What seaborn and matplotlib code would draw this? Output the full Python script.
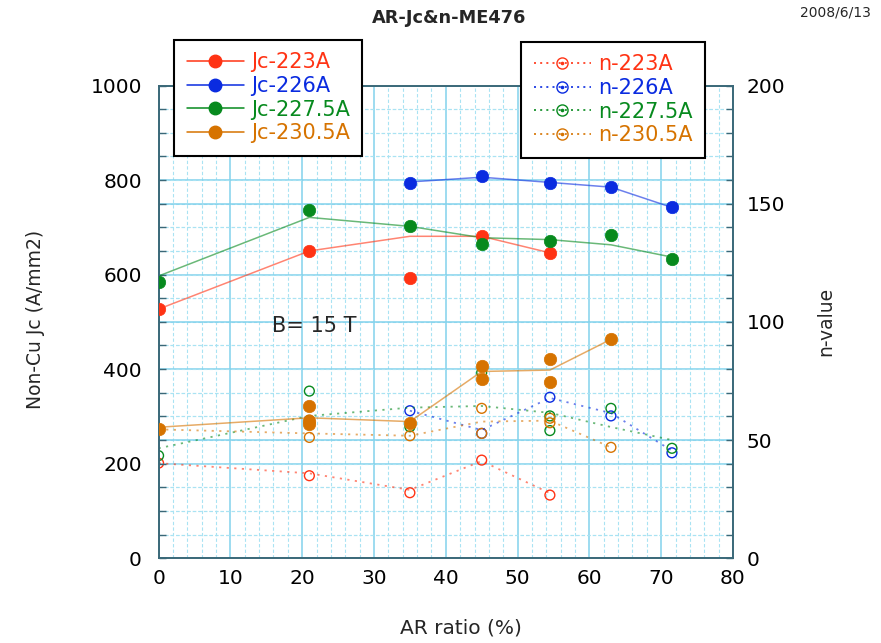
import matplotlib
matplotlib.use("Agg")
import matplotlib.pyplot as plt
from matplotlib.lines import Line2D
from matplotlib.legend_handler import HandlerTuple
from matplotlib.ticker import MultipleLocator
import seaborn as sns

# ---- data: AR ratio (%) vs non-Cu Jc (A/mm2) and n-value at B = 15 T ----
# Jc measurements
jc223_x = [0, 21, 35, 45, 54.5]
jc223_y = [527, 650, 593, 682, 646]
jc226_x = [35, 45, 54.5, 63, 71.5]
jc226_y = [793, 808, 794, 786, 742]
jc2275_x = [0, 21, 35, 45, 54.5, 63, 71.5]
jc2275_y = [584, 737, 703, 664, 672, 683, 634]
jc2305_x = [0, 21, 21, 21, 35, 45, 45, 54.5, 54.5, 63]
jc2305_y = [274, 322, 291, 283, 285, 407, 380, 421, 373, 463]

# smoothed Jc curves
jc223_fit_x = [0, 21, 35, 45, 54.5]
jc223_fit_y = [527, 650, 681, 681, 646]
jc226_fit_x = [35, 45, 54.5, 63, 71.5]
jc226_fit_y = [796, 806, 795, 785, 742]
jc2275_fit_x = [0, 21, 35, 45, 54.5, 63, 71.5]
jc2275_fit_y = [597, 721, 702, 678, 674, 663, 637]
jc2305_fit_x = [0, 21, 35, 45, 54.5, 63]
jc2305_fit_y = [277, 297, 289, 395, 398, 463]

# n-value measurements
n223_x = [0, 21, 35, 45, 54.5]
n223_y = [40.2, 34.9, 27.7, 41.5, 26.7]
n226_x = [35, 45, 54.5, 63, 71.5]
n226_y = [62.4, 52.8, 68.1, 60.2, 44.6]
n2275_x = [0, 21, 35, 45, 54.5, 54.5, 63, 71.5]
n2275_y = [43.4, 70.7, 55.6, 78.5, 60.2, 54.0, 63.4, 46.5]
n2305_x = [0, 21, 21, 35, 45, 45, 54.5, 54.5, 63]
n2305_y = [54.6, 58.5, 51.1, 51.8, 63.4, 52.8, 59.2, 57.3, 46.9]

# smoothed n-value curves
n223_fit_x = [0, 21, 35, 45, 54.5]
n223_fit_y = [40.2, 35.9, 28.9, 41.1, 27.5]
n226_fit_x = [35, 45, 54.5, 63, 71.5]
n226_fit_y = [62.4, 54.2, 67.8, 61.4, 45.5]
n2275_fit_x = [0, 21, 35, 45, 54.5, 63, 71.5]
n2275_fit_y = [46.5, 60.2, 63.7, 64.4, 61.5, 55.5, 50.0]
n2305_fit_x = [0, 21, 35, 45, 54.5, 63]
n2305_fit_y = [54.5, 52.8, 51.8, 57.8, 58.2, 46.9]

jc_labels = ["Jc-223A", "Jc-226A", "Jc-227.5A", "Jc-230.5A"]
n_labels = ["n-223A", "n-226A", "n-227.5A", "n-230.5A"]
x_ticks = [0, 10, 20, 30, 40, 50, 60, 70, 80]
jc_ticks = [0, 200, 400, 600, 800, 1000]
n_ticks = [0, 50, 100, 150, 200]

RED, BLUE, GREEN, ORANGE = "#FF3314", "#0A2BE0", "#078A1E", "#D67300"
colors = [RED, BLUE, GREEN, ORANGE]

sns.set_theme(style="white")
plt.rcParams["font.family"] = ["DejaVu Sans"]

fig = plt.figure(figsize=(8.81, 6.43), dpi=100)
pos = [0.18, 0.1319, 0.652, 0.7351]

# background axes carrying the x and left-y grid
axg = fig.add_axes(pos)
axg.set_xlim(0, 80)
axg.set_ylim(0, 1000)
axg.xaxis.set_major_locator(MultipleLocator(10))
axg.xaxis.set_minor_locator(MultipleLocator(2))
axg.yaxis.set_major_locator(MultipleLocator(200))
axg.yaxis.set_minor_locator(MultipleLocator(50))
MAJ = dict(color="#82D2EC", linewidth=1.1, linestyle="-")
MIN = dict(color="#A9E3F3", linewidth=0.8, linestyle=(0, (3, 2)))
axg.grid(True, which="major", **MAJ)
axg.grid(True, which="minor", **MIN)
axg.tick_params(which="both", length=0, labelbottom=False, labelleft=False)
for s in axg.spines.values():
    s.set_visible(False)
axg.set_zorder(0)

# Jc axes (top layer) and n-value twin
ax = fig.add_axes(pos)
ax2 = ax.twinx()
ax2.set_zorder(1)
ax.set_zorder(2)
ax.patch.set_visible(False)
ax2.patch.set_visible(False)

# n-value curves and points
n_sets = [(n223_x, n223_y, n223_fit_x, n223_fit_y),
          (n226_x, n226_y, n226_fit_x, n226_fit_y),
          (n2275_x, n2275_y, n2275_fit_x, n2275_fit_y),
          (n2305_x, n2305_y, n2305_fit_x, n2305_fit_y)]
for (px, py, fx, fy), c in zip(n_sets, colors):
    sns.lineplot(x=fx, y=fy, ax=ax2, color=c, linewidth=1.3, alpha=0.6,
                 linestyle=(0, (1.2, 3.0)), estimator=None, sort=False)
    sns.scatterplot(x=px, y=py, ax=ax2, marker="o", s=50, facecolors="none",
                    edgecolors=c, linewidths=1.0, color=c)

# Jc curves and points
jc_sets = [(jc223_x, jc223_y, jc223_fit_x, jc223_fit_y),
           (jc226_x, jc226_y, jc226_fit_x, jc226_fit_y),
           (jc2275_x, jc2275_y, jc2275_fit_x, jc2275_fit_y),
           (jc2305_x, jc2305_y, jc2305_fit_x, jc2305_fit_y)]
for (px, py, fx, fy), c in zip(jc_sets, colors):
    sns.lineplot(x=fx, y=fy, ax=ax, color=c, linewidth=1.1, alpha=0.6,
                 estimator=None, sort=False)
    sns.scatterplot(x=px, y=py, ax=ax, marker="o", s=80, color=c,
                    edgecolor=c, linewidth=0.5, zorder=3)

# axis ranges and ticks
ax.set_xlim(0, 80)
ax.set_ylim(0, 1000)
ax2.set_ylim(0, 200)
ax.set_xticks(x_ticks)
ax.set_yticks(jc_ticks)
ax2.set_yticks(n_ticks)
ax.xaxis.set_minor_locator(MultipleLocator(2))
ax.yaxis.set_minor_locator(MultipleLocator(50))
ax2.yaxis.set_minor_locator(MultipleLocator(10))

# right-axis grid (major every 50, minor every 10)
ax2.set_axisbelow(True)
ax2.grid(True, which="major", axis="y", **MAJ)
ax2.grid(True, which="minor", axis="y", **MIN)
ax.grid(False)

SPINE = "#3A6878"
for a in (ax, ax2):
    for s in a.spines.values():
        s.set_color(SPINE)
        s.set_linewidth(1.2)
ax.tick_params(axis="both", which="both", direction="in", length=5,
               color=SPINE, width=1.0, labelsize=14.5, labelcolor="black")
ax.tick_params(axis="x", which="both", top=False, pad=8)
ax.tick_params(axis="y", which="both", right=False, pad=12)
ax.tick_params(axis="x", which="minor", length=3)
ax2.tick_params(axis="y", which="both", direction="in", length=5,
                color=SPINE, width=1.0, labelsize=14.5, labelcolor="black",
                pad=10)

ax.set_xlabel("AR ratio (%)", fontsize=14.5)
ax.xaxis.label.set_va("center")
ax.xaxis.set_label_coords(0.527, -0.148)
ax.set_ylabel("Non-Cu Jc (A/mm2)", fontsize=13.5)
ax.yaxis.label.set_va("center")
ax.yaxis.set_label_coords(-0.215, 0.505)
ax2.set_ylabel("n-value", fontsize=13.5)
ax2.yaxis.label.set_va("center")
ax2.yaxis.set_label_coords(1.162, 0.5)

ax.text(15.8, 491, "B= 15 T", fontsize=15, va="center", ha="left")

fig.text(0.51, 0.972, "AR-Jc&n-ME476", ha="center", va="center",
         fontsize=12.8, fontweight="bold")
fig.text(0.948, 0.981, "2008/6/13", ha="center", va="center", fontsize=10)

# legends
jc_handles = [Line2D([], [], color=c, linewidth=1.1, marker="o", markersize=9,
                     markerfacecolor=c, markeredgecolor=c) for c in colors]
n_handles = [(Line2D([], [], color=c, linewidth=1.2, linestyle=(0, (1.2, 2.5)),
                     marker="o", markersize=8, markerfacecolor="none",
                     markeredgecolor=c, markeredgewidth=1.0),
              Line2D([], [], linestyle="none", marker="o", markersize=1.6,
                     markerfacecolor=c, markeredgecolor=c))
             for c in colors]

leg_kw = dict(fontsize=15, frameon=True, fancybox=False, framealpha=1.0,
              edgecolor="black", handlelength=2.75, handletextpad=0.35,
              labelspacing=0.17, borderpad=0.6, borderaxespad=0.0,
              loc="upper left", bbox_transform=fig.transFigure)
leg1 = ax.legend(jc_handles, jc_labels, bbox_to_anchor=(174 / 881, 1 - 40 / 643),
                 **leg_kw)
leg1.get_frame().set_linewidth(1.5)
for t, c in zip(leg1.get_texts(), colors):
    t.set_color(c)
ax.add_artist(leg1)
leg2 = ax.legend(n_handles, n_labels, bbox_to_anchor=(521 / 881, 1 - 42 / 643),
                 handler_map={tuple: HandlerTuple(ndivide=1)}, **leg_kw)
leg2.get_frame().set_linewidth(1.5)
for t, c in zip(leg2.get_texts(), colors):
    t.set_color(c)
leg1.set_zorder(10)
leg2.set_zorder(10)

fig.savefig("out.png", dpi=100)
